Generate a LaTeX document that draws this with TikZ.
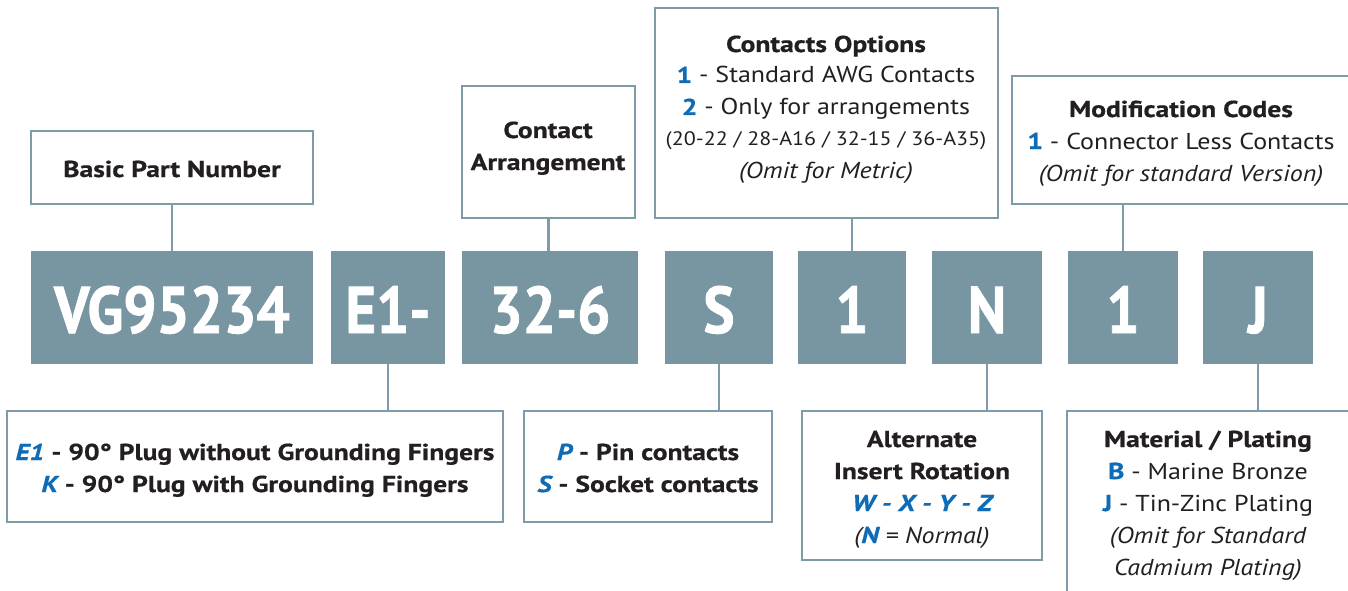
\documentclass[tikz,border=0pt]{standalone}
\usepackage{fontspec}
\setmainfont{PT Sans}[
  UprightFeatures={FakeStretch=1.13},
  ItalicFeatures={FakeStretch=1.13},
  BoldFeatures={FakeStretch=1.2,FakeBold=0.6},
  BoldItalicFeatures={FakeStretch=1.2,FakeBold=0.6}]
\newfontfamily\codefont{PT Sans}[FakeStretch=0.89,FakeBold=1.2]
\definecolor{codebg}{HTML}{7895A2}
\definecolor{framec}{HTML}{7F9BA8}
\definecolor{hl}{HTML}{0E6BB5}
\definecolor{ink}{HTML}{231F20}
\tikzset{
  codebox/.style={fill=codebg, inner sep=0pt, minimum height=113pt},
  labelbox/.style={draw=framec, line width=2.6pt, fill=white, inner sep=0pt},
  conn/.style={draw=framec, line width=2.6pt},
  codetext/.style={text=white, font=\codefont\fontsize{66}{66}\selectfont\bfseries, anchor=base, inner sep=0pt},
  ltxt/.style={text=ink, font=\fontsize{23}{28}\selectfont, anchor=base, inner sep=0pt},
  stxt/.style={text=ink, font=\fontsize{19.5}{24}\selectfont, anchor=base, inner sep=0pt},
}
\newcommand{\hb}[1]{\textcolor{hl}{\bfseries #1}}
\newcommand{\hbi}[1]{\textcolor{hl}{\bfseries\itshape #1}}
\begin{document}
\begin{tikzpicture}[x=1pt,y=-1pt]
\useasboundingbox (0,0) rectangle (1348,591);
\clip (0,0) rectangle (1348,591);
% code boxes
\node[codebox, minimum width=282pt] (vg) at (172,307.5) {};
\node[codebox, minimum width=114pt] (e1) at (388,307.5) {};
\node[codebox, minimum width=176pt] (ar) at (550,307.5) {};
\node[codebox, minimum width=108pt] (sc) at (719,307.5) {};
\node[codebox, minimum width=108pt] (co1) at (852,307.5) {};
\node[codebox, minimum width=110pt] (nn) at (987,307.5) {};
\node[codebox, minimum width=110pt] (mo1) at (1123,307.5) {};
\node[codebox, minimum width=110pt] (jj) at (1258,307.5) {};
\node[codetext] (tvg) at (172,333) {VG95234};
\node[codetext] (te1) at (388,333) {E1-};
\node[codetext] (tar) at (550,333) {32-6};
\node[codetext] (tsc) at (719,333) {S};
\node[codetext] (tco1) at (852,333) {1};
\node[codetext] (tnn) at (987,333) {N};
\node[codetext] (tmo1) at (1123,333) {1};
\node[codetext] (tjj) at (1258,333) {J};
% upper label boxes
\node[labelbox, minimum width=282pt, minimum height=73pt] (bpn) at (172,167.5) {};
\node[labelbox, minimum width=173pt, minimum height=132pt] (cab) at (548.5,152) {};
\node[labelbox, minimum width=343pt, minimum height=210pt] (cob) at (826.5,113) {};
\node[labelbox, minimum width=338pt, minimum height=128pt] (mcb) at (1181,140) {};
% lower label boxes
\node[labelbox, minimum width=496pt, minimum height=111pt] (e1b) at (255,466.5) {};
\node[labelbox, minimum width=248pt, minimum height=111pt] (psb) at (648,466.5) {};
\node[labelbox, minimum width=240pt, minimum height=149pt] (altb) at (922,485.5) {};
\node[labelbox, minimum width=283pt, minimum height=189pt] (matb) at (1208.5,505.5) {};
% connectors
\draw[conn] (bpn.south) -- (bpn.south |- vg.north);
\draw[conn] (cab.south) -- (cab.south |- ar.north);
\draw[conn] (co1.north) -- (co1.north |- cob.south);
\draw[conn] (mo1.north) -- (mo1.north |- mcb.south);
\draw[conn] (e1.south) -- (e1.south |- e1b.north);
\draw[conn] (sc.south) -- (sc.south |- psb.north);
\draw[conn] (nn.south) -- (nn.south |- altb.north);
\draw[conn] (jj.south) -- (jj.south |- matb.north);
% texts
\node[ltxt] (t1) at (172,177) {\bfseries Basic Part Number};
\node[ltxt] (t2) at (548,138) {\bfseries Contact};
\node[ltxt] (t3) at (548,170) {\bfseries Arrangement};
\node[ltxt] (t4) at (826,52) {\bfseries Contacts Options};
\node[ltxt] (t5) at (826,83) {\hb{1} - Standard AWG Contacts};
\node[ltxt] (t6) at (826,115) {\hb{2} - Only for arrangements};
\node[stxt] (t7) at (826,146) {(20-22 / 28-A16 / 32-15 / 36-A35)};
\node[ltxt] (t8) at (826,178) {\itshape (Omit for Metric)};
\node[ltxt] (t9) at (1181,117) {\bfseries Modification Codes};
\node[ltxt] (t10) at (1181,149) {\hb{1} - Connector Less Contacts};
\node[ltxt] (t11) at (1181,181) {\itshape (Omit for standard Version)};
\node[ltxt] (t12) at (255,460) {\bfseries\hbi{E1} - 90° Plug without Grounding Fingers};
\node[ltxt] (t13) at (255,492) {\bfseries\hbi{K} - 90° Plug with Grounding Fingers};
\node[ltxt] (t14) at (648,460) {\bfseries\hbi{P} - Pin contacts};
\node[ltxt] (t15) at (648,492) {\bfseries\hbi{S} - Socket contacts};
\node[ltxt] (t16) at (922,447) {\bfseries Alternate};
\node[ltxt] (t17) at (922,479) {\bfseries Insert Rotation};
\node[ltxt] (t18) at (922,511) {\hbi{W - X - Y - Z}};
\node[ltxt] (t19) at (922,543) {\itshape (\hbi{N} = Normal)};
\node[ltxt] (t20) at (1208,447) {\bfseries Material / Plating};
\node[ltxt] (t21) at (1208,479) {\hb{B} - Marine Bronze};
\node[ltxt] (t22) at (1208,511) {\hb{J} - Tin-Zinc Plating};
\node[ltxt] (t23) at (1208,543) {\itshape (Omit for Standard};
\node[ltxt] (t24) at (1208,575) {\itshape Cadmium Plating)};
\end{tikzpicture}
\end{document}
